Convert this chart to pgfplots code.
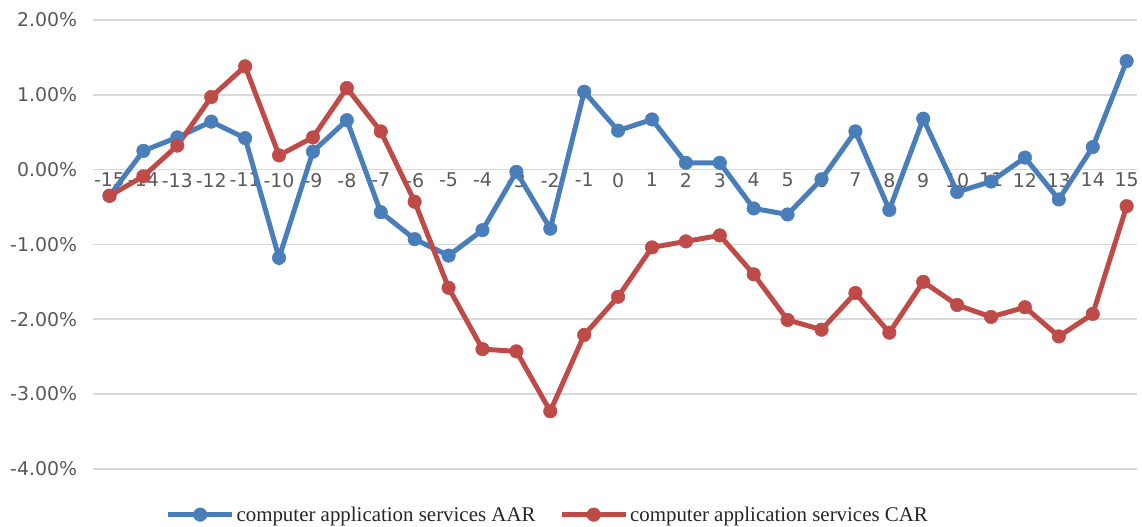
\documentclass[border=0pt]{standalone}
\usepackage{pgfplots}
\pgfplotsset{compat=1.18}
\usepackage{fontspec}
\setmainfont{DejaVu Sans}
\newfontfamily\legfont{Liberation Serif}
\definecolor{aar}{RGB}{74,126,187}
\definecolor{car}{RGB}{190,75,72}
\definecolor{txt}{RGB}{89,89,89}
\definecolor{grd}{RGB}{217,217,217}
\begin{document}
\begin{tikzpicture}
\begin{axis}[name=ax, scale only axis, width=1049pt, height=451pt,
  xmin=-15.5, xmax=15.3, ymin=-4, ymax=2,
  axis x line=middle, axis y line=left, axis line style={draw=none},
  xtick={-15,-14,...,15}, ytick={-4,-3,...,2},
  major tick length=0pt,
  /pgf/number format/assume math mode=true,
  xticklabel={\pgfmathprintnumber{\tick}},
  yticklabel={\pgfmathprintnumber[fixed,fixed zerofill,precision=2]{\tick}\%},
  ticklabel style={font=\fontsize{19}{22}\selectfont, text=txt},
  xticklabel style={anchor=north, yshift=0pt},
  yticklabel style={anchor=east, xshift=-12pt},
  ymajorgrids, grid style={grd, line width=1.6pt},
  clip=false,
  legend columns=2,
  legend style={draw=none, fill=none, at={(0.436,0)}, anchor=center, yshift=-46pt,
    font=\legfont\fontsize{21}{23}\selectfont, text=black!85,
    /tikz/every even column/.append style={column sep=22pt}},
  legend image code/.code={\draw[mark repeat=2,mark phase=2,#1] plot coordinates {(0pt,0pt)(32pt,0pt)(64pt,0pt)};},
  every axis plot/.append style={line width=5pt, mark=*, mark size=6.8pt, mark options={line width=0.5pt}},
]
\addplot[color=aar] coordinates {
(-15,-0.35)(-14,0.25)(-13,0.43)(-12,0.64)(-11,0.42)(-10,-1.18)(-9,0.24)(-8,0.66)(-7,-0.57)(-6,-0.93)
(-5,-1.15)(-4,-0.81)(-3,-0.03)(-2,-0.79)(-1,1.04)(0,0.52)(1,0.67)(2,0.09)(3,0.09)(4,-0.52)
(5,-0.60)(6,-0.13)(7,0.51)(8,-0.54)(9,0.68)(10,-0.30)(11,-0.16)(12,0.16)(13,-0.40)(14,0.30)(15,1.45)};
\addlegendentry{computer application services AAR}
\addplot[color=car] coordinates {
(-15,-0.35)(-14,-0.09)(-13,0.32)(-12,0.97)(-11,1.38)(-10,0.19)(-9,0.43)(-8,1.09)(-7,0.51)(-6,-0.43)
(-5,-1.58)(-4,-2.40)(-3,-2.43)(-2,-3.23)(-1,-2.21)(0,-1.70)(1,-1.04)(2,-0.96)(3,-0.88)(4,-1.40)
(5,-2.01)(6,-2.14)(7,-1.65)(8,-2.18)(9,-1.50)(10,-1.81)(11,-1.97)(12,-1.84)(13,-2.23)(14,-1.93)(15,-0.49)};
\addlegendentry{computer application services CAR}
\end{axis}
\useasboundingbox ([xshift=-93pt,yshift=-57pt]ax.south west) rectangle ([yshift=20pt]ax.north east);
\end{tikzpicture}
\end{document}
